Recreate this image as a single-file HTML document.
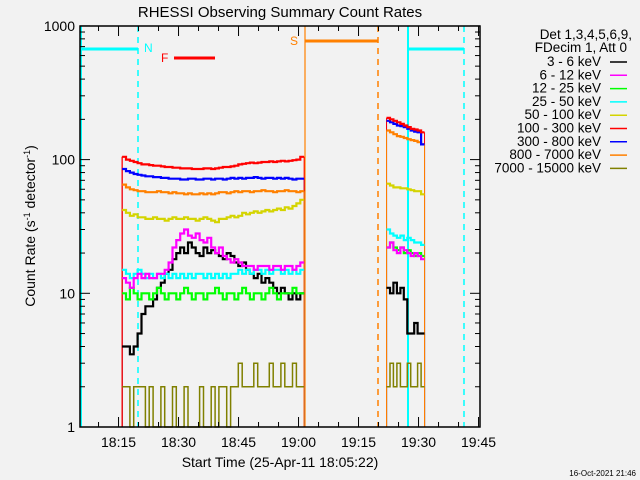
<!DOCTYPE html>
<html><head><meta charset="utf-8"><style>
html,body{margin:0;padding:0;background:#f2f2f2;}
svg{display:block;font-family:"Liberation Sans",sans-serif;}
</style></head><body>
<svg id="chart" width="640" height="480">
<rect width="640" height="480" fill="#f2f2f2"/>
<text x="280" y="17" text-anchor="middle" font-size="15">RHESSI Observing Summary Count Rates</text>
<g id="marks"></g>
<g id="axes"></g>
<text transform="translate(35,226) rotate(-90)" text-anchor="middle" font-size="14">Count Rate (s<tspan dy="-5" font-size="9">-1</tspan><tspan dy="5"> detector</tspan><tspan dy="-5" font-size="9">-1</tspan><tspan dy="5">)</tspan></text>
<text x="280" y="467" text-anchor="middle" font-size="14">Start Time (25-Apr-11 18:05:22)</text>
<text x="636" y="476" text-anchor="end" font-size="8">16-Oct-2021 21:46</text>
<g id="legend" font-size="13.5" text-anchor="end">
<text x="632" y="39">Det 1,3,4,5,6,9,</text>
<text x="627" y="52">FDecim 1, Att 0</text>
</g>
</svg>
<script>
const categories=["3 - 6 keV","6 - 12 keV","12 - 25 keV","25 - 50 keV","50 - 100 keV","100 - 300 keV","300 - 800 keV","800 - 7000 keV","7000 - 15000 keV"];
const colors=["#000000","#ff00ff","#00ff00","#00ffff","#d4d400","#ff0000","#0000ff","#ff8000","#808000"];
const yTicks=[1,10,100,1000];
const xTickLabels=["18:15","18:30","18:45","19:00","19:15","19:30","19:45"];
const xTickMinutes=[15,30,45,60,75,90,105];
const seg1Start=15.9, seg1End=61.4, seg2Start=82, seg2End=91.5;
const s1_black=[4,4,3.5,4,5,7,8,8,9,11,12,14,15,18,20,22,20,24,22,20,19,22,20,21,20,19,18,20,19,17,16,17,15,14,13,14,12,13,12,11,10,11,10,9,10,9,10];
const s1_magenta=[13,12,11,13,14,13,14,13,13,14,14,15,17,22,25,28,30,27,26,28,25,24,26,22,20,22,19,18,17,18,17,16,16,16,15,16,16,16,15,16,16,15,16,16,15,16,17];
const s1_green=[10,9,11,10,9,10,10,9,10,11,10,9,10,10,9,10,11,10,9,10,10,9,10,10,11,10,9,10,10,9,10,11,10,9,10,10,9,10,11,10,9,10,10,10,11,10,10];
const s1_cyan=[15,14,13,14,15,14,13,14,13,14,13,14,13,14,13,14,13,14,13,14,14,13,14,13,14,13,14,13,14,14,15,14,15,14,15,15,14,15,14,15,15,14,15,14,15,14,15];
const s1_yellow=[42,40,38,39,37,37,36,36,37,36,36,35,36,37,36,36,37,36,36,35,36,37,36,35,34,36,36,37,38,37,38,40,39,40,41,40,41,42,41,42,43,42,44,43,45,47,50];
const s1_red=[105,100,98,96,94,92,92,91,90,90,89,88,88,87,87,86,86,86,85,85,85,86,86,85,86,87,88,88,89,90,92,93,94,95,94,95,96,96,97,96,97,98,97,98,99,100,105];
const s1_blue=[85,82,80,78,77,76,75,75,74,74,73,73,72,72,72,71,71,72,72,71,71,72,72,71,72,72,71,72,73,72,73,72,73,73,74,73,72,73,73,72,73,72,73,72,71,72,72];
const s1_orange=[65,62,60,59,58,58,57,57,57,58,57,57,56,57,56,56,55,56,55,55,56,55,56,55,56,57,57,56,57,58,57,58,58,57,58,58,59,58,58,57,58,58,59,58,58,57,58];
const s1_olive=[2,2,1,2,2,2,1,2,1,1,2,1,1,2,1,1,2,1,1,1,2,1,1,2,1,2,2,1,2,2,3,2,2,2,3,2,2,2,3,2,2,3,2,2,3,2,2];
const s2_black=[11,10,12,10,11,9,5,5,6,5,5];
const s2_magenta=[22,24,21,20,22,21,20,19,20,19,18];
const s2_green=[22,24,22,21,22,20,21,20,19,20,19];
const s2_cyan=[30,28,27,26,27,25,26,25,24,24,23];
const s2_yellow=[66,64,62,62,61,61,60,59,58,58,55];
const s2_red=[205,200,195,190,185,180,175,170,168,165,160];
const s2_blue=[195,190,185,180,178,175,170,165,162,160,130];
const s2_orange=[165,160,155,150,148,145,142,140,138,135,130];
const s2_olive=[2,3,2,3,2,2,3,2,2,3,2];

const NS="http://www.w3.org/2000/svg";
const L=80,R=480,T=26,B=427,DEC=133.7,T0=5.367,PXMIN=4;
function xs(m){return L+(m-T0)*PXMIN;}
function ys(v){return B-Math.log10(v)*DEC;}
function mk(tag,attrs,parent){const e=document.createElementNS(NS,tag);for(const k in attrs)e.setAttribute(k,attrs[k]);parent.appendChild(e);return e;}
const marks=document.getElementById('marks'),axes=document.getElementById('axes'),legend=document.getElementById('legend');

function line(x1,y1,x2,y2,c,w,dash,name){const e=mk('line',{x1:x1,y1:y1,x2:x2,y2:y2,stroke:c,'stroke-width':w},marks);if(dash)e.setAttribute('stroke-dasharray',dash);

}
line(81,T,81,B,'#00ffff',2,null,'night-start-line');
line(80,49,138,49,'#00ffff',3,null,'night-bar-1');
line(138,T,138,B,'#00ffff',1.5,'6,5','night-end-line');
line(174,58,215,58,'#ff0000',3,null,'flare-bar');
line(305,T,305,B,'#ff8000',1.2,null,'saa-start-line');
line(305,41,378,41,'#ff8000',3,null,'saa-bar');
line(378,T,378,B,'#ff8000',1.5,'6,5','saa-end-line');
line(408,T,408,B,'#00ffff',2,null,'night-start-line-2');
line(408,49,464,49,'#00ffff',3,null,'night-bar-2');
line(464,T,464,B,'#00ffff',1.5,'6,5','night-end-line-2');
function lbl(x,y,t,c,name){const e=mk('text',{x:x,y:y,fill:c,'font-size':12},marks);e.textContent=t;

}
lbl(144,52,'N','#00ffff','night-label');lbl(161,62,'F','#ff0000','flare-label');lbl(290,45,'S','#ff8000','saa-label');

const seg1=[s1_black,s1_magenta,s1_green,s1_cyan,s1_yellow,s1_red,s1_blue,s1_orange,s1_olive];
const seg2=[s2_black,s2_magenta,s2_green,s2_cyan,s2_yellow,s2_red,s2_blue,s2_orange,s2_olive];
const order=[8,0,2,3,1,4,7,6,5];
function stepPts(vals,t0,t1){const dt=(t1-t0)/vals.length;let p=[];vals.forEach((v,i)=>{p.push([xs(t0+i*dt),ys(v)]);p.push([xs(t0+(i+1)*dt),ys(v)]);});return p.map(a=>a[0].toFixed(1)+','+a[1].toFixed(1)).join(' ');}
// thin edge drops
const edgeOrder=[8,0,2,3,1,4,6,5,7];
edgeOrder.forEach(i=>{[[seg1[i],seg1Start,seg1End,1],[seg2[i],seg2Start,seg2End,2]].forEach(s=>{
const a=mk('line',{x1:xs(s[1]),y1:B,x2:xs(s[1]),y2:ys(s[0][0]),stroke:(s[3]==1&&i==7)?'none':colors[i],'stroke-width':1},marks);


const b=mk('line',{x1:xs(s[2]),y1:B,x2:xs(s[2]),y2:ys(s[0][s[0].length-1]),stroke:colors[i],'stroke-width':1},marks);

});});
const redEdge=mk('line',{x1:xs(seg1Start),y1:B,x2:xs(seg1Start),y2:ys(s1_red[0]),stroke:'#ff0000','stroke-width':1.2},marks);


order.forEach(i=>{[[seg1[i],seg1Start,seg1End,1],[seg2[i],seg2Start,seg2End,2]].forEach(s=>{
const pl=mk('polyline',{points:stepPts(s[0],s[1],s[2]),fill:'none',stroke:colors[i],'stroke-width':i==8?1.5:2.2},marks);

});});

const fr=mk('rect',{x:L,y:T,width:R-L,height:B-T,fill:'none',stroke:'#000','stroke-width':1.5},axes);


yTicks.forEach((v,k)=>{const y=ys(v);
mk('line',{x1:L,y1:y,x2:L+10,y2:y,stroke:'#000'},axes);mk('line',{x1:R,y1:y,x2:R-10,y2:y,stroke:'#000'},axes);
const t=mk('text',{x:L-5,y:y+5,'text-anchor':'end','font-size':14},axes);t.textContent=String(v);


if(k<yTicks.length-1)for(let m=2;m<10;m++){const yy=ys(v*m);mk('line',{x1:L,y1:yy,x2:L+5,y2:yy,stroke:'#000'},axes);mk('line',{x1:R,y1:yy,x2:R-5,y2:yy,stroke:'#000'},axes);}});
for(let m=10;m<=105;m+=5){const x=xs(m);if(x<L||x>R)continue;const major=(m%15===0);const len=major?10:5;
mk('line',{x1:x,y1:B,x2:x,y2:B-len,stroke:'#000'},axes);mk('line',{x1:x,y1:T,x2:x,y2:T+len,stroke:'#000'},axes);}
xTickMinutes.forEach((m,k)=>{const t=mk('text',{x:xs(m),y:447,'text-anchor':'middle','font-size':14},axes);t.textContent=xTickLabels[k];

});

categories.forEach((c,i)=>{const y=62+i*13.3;
const t=mk('text',{x:601,y:y+4,'font-size':13.5},legend);t.textContent=c;


const l=mk('line',{x1:610,y1:y,x2:627,y2:y,stroke:colors[i],'stroke-width':1.5},legend);

});
</script>
</body></html>
